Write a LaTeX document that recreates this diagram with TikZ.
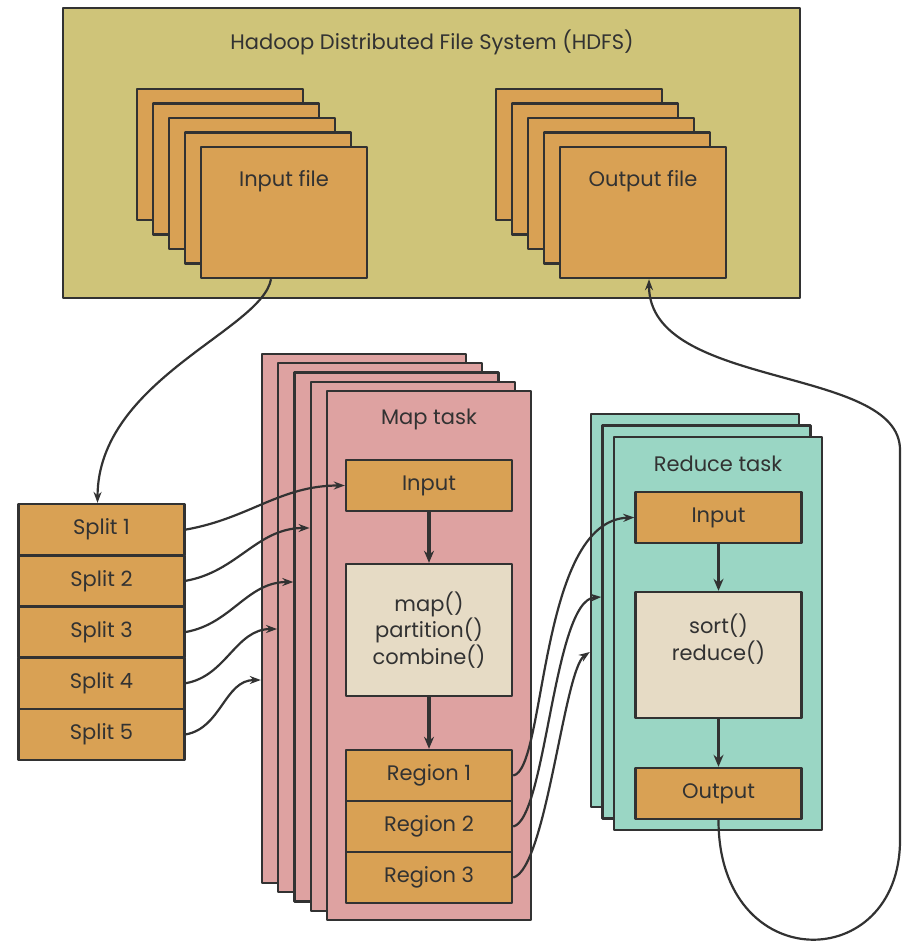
\documentclass[tikz,border=0pt]{standalone}
\usepackage{fontspec}
\setmainfont{Poppins}
\usetikzlibrary{arrows.meta,positioning}
\definecolor{ink}{RGB}{50,50,50}
\definecolor{hdfsfill}{RGB}{207,196,121}
\definecolor{filefill}{RGB}{217,161,84}
\definecolor{mapfill}{RGB}{222,162,161}
\definecolor{redfill}{RGB}{154,214,196}
\definecolor{procfill}{RGB}{230,219,197}
\begin{document}
\begin{tikzpicture}[x=0.5pt,y=-0.5pt,line join=round,>={Stealth[length=5.5pt,width=4pt]},font=\fontsize{10.5}{13.25}\selectfont]
    \tikzset{every node/.style={text=ink,inner sep=0pt},
        frame/.style={draw=ink,line width=1.2pt},
        filebox/.style={frame,fill=filefill,minimum width=83pt,minimum height=65.5pt},
        cell/.style={frame,fill=filefill,minimum width=83pt,minimum height=25.5pt},
        proc/.style={frame,fill=procfill,minimum width=83pt,align=center},
        conn/.style={draw=ink,line width=1.1pt},
        flow/.style={draw=ink,line width=1.6pt,-{Stealth[length=6pt,width=5pt]}}}
    \useasboundingbox (0,0) rectangle (902,946);
    % HDFS
    \node[frame,fill=hdfsfill,minimum width=368.5pt,minimum height=145pt] (hdfs) at (431.5,153) {};
    \node (hdfslbl) at (432,42) {Hadoop Distributed File System (HDFS)};
    \foreach \i in {0,...,4} {
        \node[filebox] (in\i) at ({220+16*\i},{154.5+14.5*\i}) {};
        \node[filebox] (out\i) at ({579+16*\i},{154.5+14.5*\i}) {};
    }
    \node (inlbl) at (284,181) {Input file};
    \node (outlbl) at (643,181) {Output file};
    % splits
    \foreach \j in {1,...,5}
        \node[cell] (split\j) at (101.5,{478.4+51.2*\j}) {Split \j};
    % map task
    \foreach \i in {0,...,4}
        \node[frame,fill=mapfill,minimum width=102pt,minimum height=264.5pt] (map\i) at ({364+16.25*\i},{618.5+9.25*\i}) {};
    \node (maplbl) at (429,419) {Map task};
    \node[cell] (minput) at (429,485.5) {Input};
    \node[proc,minimum height=66pt] (mproc) at (429,630) {map()\\partition()\\combine()};
    \foreach \k in {1,2,3}
        \node[cell] (reg\k) at (429,{724.5+51*\k}) {Region \k};
    \draw[flow] (minput) -- (mproc);
    \draw[flow] (mproc) -- (reg1);
    % reduce task
    \foreach \i in {0,1,2}
        \node[frame,fill=redfill,minimum width=104pt,minimum height=196.5pt] (red\i) at ({695+11.5*\i},{610.5+11.5*\i}) {};
    \node (redlbl) at (718,464) {Reduce task};
    \node[cell] (rinput) at (718.5,517.5) {Input};
    \node[proc,minimum height=63pt] (rproc) at (718.5,655) {};
    \node[align=center] (rproclbl) at (718.5,639) {sort()\\reduce()};
    \node[cell] (routput) at (718.5,793.5) {Output};
    \draw[flow] (rinput) -- (rproc);
    \draw[flow] (rproc) -- (routput);
    % connectors
    \draw[conn,->] ([xshift=-6.5pt]in4.south) .. controls (262,330) and (98,380) .. ([xshift=-2pt]split1.north);
    \draw[conn,->] (split1.east) to[out=10,in=180] (minput.west);
    \foreach \j/\m/\y in {2/3/528,3/2/582,4/1/629,5/0/680}
        \draw[conn,->] (split\j.east) to[out=10,in=180] (map\m.west |- 0,\y);
    \draw[conn,->] (reg1.east) .. controls +(33,-5) and +(-96,3) .. (rinput.west);
    \draw[conn,->] (reg2.east) .. controls +(33,-7) and +(-48,3) .. (red1.west |- 0,597);
    \draw[conn,->] (reg3.east) .. controls +(33,-8) and +(-26,18) .. (red0.west |- 0,652);
    \draw[conn,->] (routput.south) .. controls +(0,157) and (900,975) .. (900,840) -- (900,450) .. controls (900,365) and (649,390) .. ([xshift=3pt]out4.south);
\end{tikzpicture}
\end{document}
